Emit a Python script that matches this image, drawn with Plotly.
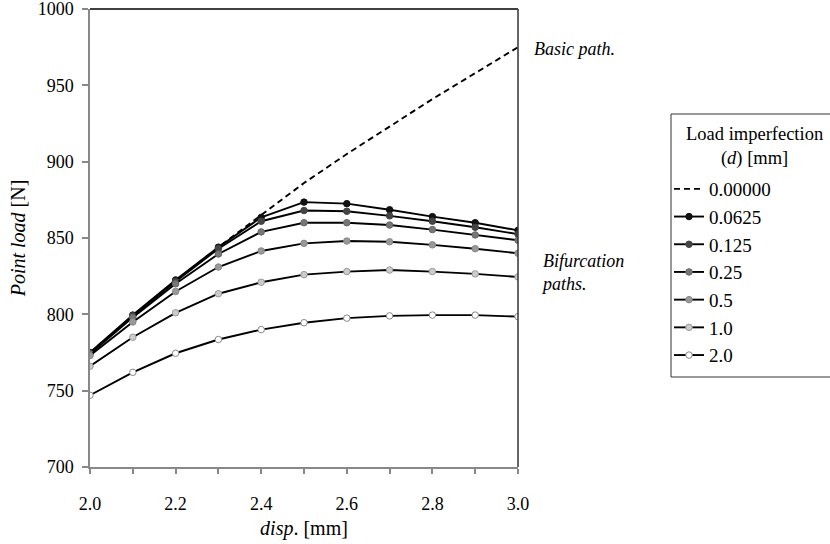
import plotly.graph_objects as go

disp = [2.0, 2.1, 2.2, 2.3, 2.4, 2.5, 2.6, 2.7, 2.8, 2.9, 3.0]

basic_path = [775, 799, 822, 844, 865, 886, 905, 923, 941, 958, 975]
d_0_0625 = [775, 799.5, 822.5, 844, 863.5, 873.5, 872.5, 868.5, 864, 860, 855]
d_0_125 = [774.5, 799, 821.5, 843, 861, 868, 867.5, 864.5, 861, 857, 852.5]
d_0_25 = [774, 798, 820, 839.5, 854, 860, 860, 858.5, 855.5, 852, 848.5]
d_0_5 = [773, 795, 815, 831, 841.5, 846.5, 848, 847.5, 845.5, 843, 840]
d_1_0 = [766, 785, 801, 813.5, 821, 826, 828, 829, 828, 826.5, 824.5]
d_2_0 = [747, 762, 774.5, 783.5, 790, 794.5, 797.5, 799, 799.5, 799.5, 798.5]

series_names = ["0.0625", "0.125", "0.25", "0.5", "1.0", "2.0"]
series_values = [d_0_0625, d_0_125, d_0_25, d_0_5, d_1_0, d_2_0]
marker_fill = ["#111111", "#444444", "#777777", "#999999", "#cccccc", "#ffffff"]
marker_edge = ["#111111", "#444444", "#666666", "#888888", "#999999", "#888888"]

x_ticks = [2.0, 2.2, 2.4, 2.6, 2.8, 3.0]
x_tick_labels = ["2.0", "2.2", "2.4", "2.6", "2.8", "3.0"]
y_ticks = [700, 750, 800, 850, 900, 950, 1000]
y_tick_labels = ["700", "750", "800", "850", "900", "950", "1000"]

FONT = "Liberation Serif"

L, R, T, B = 90, 518, 9, 467
W, H = 830, 544


def px_x(p):
    return (p - L) / (R - L)


def px_y(p):
    return (B - p) / (B - T)


fig = go.Figure()

fig.add_trace(go.Scatter(
    x=disp, y=basic_path, mode="lines", name="0.00000",
    line=dict(color="black", width=1.9, dash="6px,4px"),
))

for name, vals, fc, ec in zip(series_names, series_values, marker_fill, marker_edge):
    fig.add_trace(go.Scatter(
        x=disp, y=vals, mode="lines+markers", name=name,
        line=dict(color="black", width=1.9),
        marker=dict(size=6.5, color=fc, line=dict(color=ec, width=1)),
    ))

box_line = dict(color="#333333", width=1)
box_l, box_r, box_t, box_b = px_x(671), px_x(830), px_y(114), px_y(377)

fig.update_layout(
    width=W, height=H,
    margin=dict(l=L, r=W - R, t=T, b=H - B),
    paper_bgcolor="white", plot_bgcolor="white",
    font=dict(family=FONT, size=18, color="black"),
    showlegend=True,
    legend=dict(
        x=px_x(669), y=px_y(170), xanchor="left", yanchor="top",
        borderwidth=0, bgcolor="rgba(0,0,0,0)",
        font=dict(family=FONT, size=19, color="black"),
        itemwidth=30,
        tracegroupgap=0,
    ),
    xaxis=dict(
        range=[2.0, 3.0], tickvals=x_ticks, ticktext=x_tick_labels,
        showgrid=False, zeroline=False, automargin=False,
        showline=True, linecolor="#888888", linewidth=1.5,
        ticks="outside", ticklen=5, tickcolor="#888888", tickwidth=1.5,
        ticklabelstandoff=15, ticklabeloverflow="allow",
        minor=dict(dtick=0.1, tick0=2.0, ticks="outside", ticklen=5, tickcolor="#888888", tickwidth=1.5, showgrid=False),
        tickfont=dict(family=FONT, size=18, color="black"),
        title=dict(text="<i>disp</i>. [mm]", font=dict(family=FONT, size=20), standoff=8),
    ),
    yaxis=dict(
        range=[700, 1000], tickvals=y_ticks, ticktext=y_tick_labels,
        showgrid=False, zeroline=False, automargin=False,
        showline=True, linecolor="#888888", linewidth=1.5,
        ticks="outside", ticklen=6, tickcolor="#888888", tickwidth=1.5,
        ticklabelstandoff=5, ticklabeloverflow="allow",
        tickfont=dict(family=FONT, size=18, color="black"),
        title=dict(text="<i>Point load</i> [N]", font=dict(family=FONT, size=20), standoff=7),
    ),
    shapes=[
        dict(type="line", xref="paper", yref="paper", x0=0, x1=1, y0=1, y1=1,
             line=dict(color="black", width=1.5), layer="above"),
        dict(type="line", xref="paper", yref="paper", x0=1, x1=1, y0=0, y1=1,
             line=dict(color="#333333", width=1.5), layer="above"),
        dict(type="line", xref="paper", yref="paper", x0=box_l, x1=box_l, y0=box_b, y1=box_t,
             line=box_line, layer="above"),
        dict(type="line", xref="paper", yref="paper", x0=box_l, x1=box_r, y0=box_t, y1=box_t,
             line=box_line, layer="above"),
        dict(type="line", xref="paper", yref="paper", x0=box_l, x1=box_r, y0=box_b, y1=box_b,
             line=box_line, layer="above"),
    ],
    annotations=[
        dict(text="Load imperfection<br>(<i>d</i>) [mm]", xref="paper", yref="paper",
             x=px_x(754), y=px_y(146), xanchor="center", yanchor="middle",
             align="center", showarrow=False, font=dict(family=FONT, size=18.5)),
        dict(text="<i>Basic path.</i>", xref="paper", yref="paper",
             x=px_x(532), y=px_y(49), xanchor="left", yanchor="middle",
             showarrow=False, font=dict(family=FONT, size=18)),
        dict(text="<i>Bifurcation<br>paths.</i>", xref="paper", yref="paper",
             x=px_x(539), y=px_y(272), xanchor="left", yanchor="middle",
             align="left", showarrow=False, font=dict(family=FONT, size=18)),
    ],
)

fig.write_html("out.html", config={"displayModeBar": False},
               post_script="document.body.style.margin='0px';")
